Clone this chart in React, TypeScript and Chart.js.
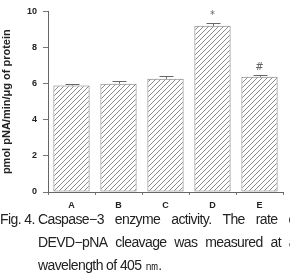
import React, { useEffect, useRef } from "react";
import { Chart, registerables } from "chart.js";

Chart.register(...registerables);

const categories = ["A", "B", "C", "D", "E"];
const values = [5.9, 6.0, 6.27, 9.2, 6.38];
const errors = [0.06, 0.13, 0.16, 0.16, 0.1];
const marks = ["", "", "", "*", "#"];
const yTicks = [0, 2, 4, 6, 8, 10];

function makeHatch(): CanvasPattern | string {
  const c = document.createElement("canvas");
  c.width = 5;
  c.height = 5;
  const g = c.getContext("2d");
  if (!g) return "#fff";
  g.fillStyle = "#fff";
  g.fillRect(0, 0, 5, 5);
  g.strokeStyle = "#8a8a8a";
  g.lineWidth = 1;
  g.beginPath();
  g.moveTo(0, 5);
  g.lineTo(5, 0);
  g.moveTo(-1, 1);
  g.lineTo(1, -1);
  g.moveTo(4, 6);
  g.lineTo(6, 4);
  g.stroke();
  const p = g.createPattern(c, "repeat");
  return p || "#fff";
}

const errorPlugin = {
  id: "errbars",
  afterDatasetsDraw(chart: any) {
    const ctx = chart.ctx;
    const meta = chart.getDatasetMeta(0);
    const ys = chart.scales.y;
    ctx.save();
    ctx.strokeStyle = "#666";
    ctx.lineWidth = 1;
    meta.data.forEach((bar: any, i: number) => {
      const top = ys.getPixelForValue(values[i] + errors[i]);
      const base = ys.getPixelForValue(values[i]);
      const x = Math.round(bar.x) + 0.5;
      ctx.beginPath();
      ctx.moveTo(x, base);
      ctx.lineTo(x, Math.round(top) + 0.5);
      ctx.moveTo(x - 7, Math.round(top) + 0.5);
      ctx.lineTo(x + 7, Math.round(top) + 0.5);
      ctx.stroke();
      if (marks[i]) {
        ctx.fillStyle = "#666";
        ctx.font = "italic 10px 'DejaVu Sans', sans-serif";
        ctx.textAlign = "center";
        ctx.textBaseline = "bottom";
        ctx.fillText(marks[i], x - 1, top - 3);
      }
    });
    ctx.restore();
  },
};

export default function App() {
  const ref = useRef<HTMLCanvasElement>(null);
  useEffect(() => {
    if (!ref.current) return;
    const hatch = makeHatch();
    const chart = new Chart(ref.current, {
      type: "bar",
      data: {
        labels: categories,
        datasets: [
          {
            data: values,
            backgroundColor: hatch as any,
            borderColor: "#7a7a7a",
            borderWidth: 1,
            borderSkipped: false,
            barPercentage: 0.77,
            categoryPercentage: 1,
          },
        ],
      },
      options: {
        responsive: false,
        animation: false,
        devicePixelRatio: 1,
        layout: { padding: { top: 7, right: 7, left: 0, bottom: 0 } },
        plugins: { legend: { display: false }, tooltip: { enabled: false } },
        scales: {
          x: {
            grid: {
              offset: true,
              drawOnChartArea: false,
              drawTicks: true,
              tickLength: 3,
              color: "#777",
            },
            border: { display: true, color: "#666", width: 1 },
            ticks: {
              color: "#222",
              padding: 5,
              font: { family: "'Liberation Sans', Arial, sans-serif", size: 9, weight: "bold" },
            },
            afterFit: (s: any) => {
              s.height = 23;
            },
          },
          y: {
            min: 0,
            max: 10,
            afterBuildTicks: (s: any) => {
              s.ticks = yTicks.map((v) => ({ value: v }));
            },
            grid: {
              drawOnChartArea: false,
              drawTicks: true,
              tickLength: 5,
              color: "#777",
            },
            border: { display: true, color: "#666", width: 1 },
            ticks: {
              color: "#222",
              padding: 6,
              font: { family: "'Liberation Sans', Arial, sans-serif", size: 9, weight: "bold" },
            },
            title: {
              display: true,
              text: "pmol pNA/min/μg of protein",
              color: "#222",
              padding: { top: 0, bottom: 3 },
              font: { family: "'Liberation Sans', Arial, sans-serif", size: 11, weight: "bold" },
            },
            afterFit: (s: any) => {
              s.width = 48;
            },
          },
        },
      },
      plugins: [errorPlugin],
    });
    return () => chart.destroy();
  }, []);

  const textBase: React.CSSProperties = {
    position: "absolute",
    whiteSpace: "nowrap",
    fontFamily: "'Liberation Sans', Arial, sans-serif",
    fontSize: 14,
    letterSpacing: -0.6,
    color: "#222",
  };
  const lineStyle: React.CSSProperties = {
    ...textBase,
    left: 38,
    width: 261,
    display: "flex",
    justifyContent: "space-between",
  };

  return (
    <div
      style={{
        position: "absolute",
        left: 0,
        top: 0,
        width: 290,
        height: 279,
        overflow: "hidden",
        background: "#fff",
      }}
    >
      <canvas ref={ref} width={290} height={215} style={{ position: "absolute", left: 0, top: 0 }} />
      <div style={{ ...textBase, left: 0, top: 211 }}>Fig. 4.</div>
      <div style={{ ...lineStyle, top: 211 }}>
        <span>Caspase−3</span>
        <span>enzyme</span>
        <span>activity.</span>
        <span>The</span>
        <span>rate</span>
        <span>of</span>
      </div>
      <div style={{ ...lineStyle, top: 234, width: 258 }}>
        <span>DEVD−pNA</span>
        <span>cleavage</span>
        <span>was</span>
        <span>measured</span>
        <span>at</span>
        <span>a</span>
      </div>
      <div style={{ ...textBase, left: 38, top: 257 }}>wavelength of 405 ㎚.</div>
    </div>
  );
}
